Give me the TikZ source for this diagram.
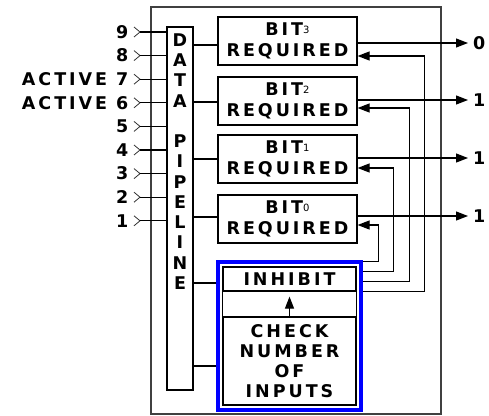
\documentclass[tikz,border=0pt]{standalone}
\usepackage{fontspec}
\newfontfamily\pixfont[LetterSpace=17]{DejaVu Sans}
\usetikzlibrary{arrows.meta, positioning, fit}
\newcommand{\bitno}[1]{\raisebox{2pt}{\fontsize{10}{10}\selectfont\mdseries #1}}

\begin{document}
\begin{tikzpicture}[
      x=1pt, y=-1pt,
      line width=1.2pt,
      font=\pixfont\bfseries\fontsize{17.5}{21.5}\selectfont,
      bitbox/.style={rectangle, draw, minimum width=139pt, minimum height=48pt, inner sep=0pt, align=center},
      logic/.style={rectangle, draw, minimum width=133pt, inner sep=0pt, align=center, font=\pixfont\bfseries\fontsize{17.5}{20}\selectfont},
      letter/.style={inner sep=0pt},
      arrow/.style={-{Triangle[length=12pt,width=9pt]}}
    ]
    \useasboundingbox (0,0) rectangle (489,415);
    % outer frame
    \draw [black!75, line width=1.5pt] (151,7) rectangle (441,414);

    % data pipeline
    \node [rectangle, draw, minimum width=26pt, minimum height=363pt, inner sep=0pt] (pipe) at (180,208.5) {};
    \foreach \ch [count=\k from 0] in {D,A,T,A,{},P,I,P,E,L,I,N,E}
      \node [letter] (pl\k) at (180,40+20.25*\k) {\ch};

    % inputs
    \foreach \lab [count=\k from 0] in {9,8,ACTIVE 7,ACTIVE 6,5,4,3,2,1} {
      \coordinate (in\k) at (140,32+23.6*\k);
      \node [letter, anchor=east] (lab\k) at (129,32+23.6*\k) {\lab};
      \draw [line width=0.8pt, black!80] (in\k) ++(-6,-5) -- (in\k) -- ++(-6,5);
      \draw (in\k) -- (in\k -| pipe.west);
    }

    % bit boxes
    \node [bitbox] (bit3) at (287.5,41) {BIT\bitno{3}\\REQUIRED};
    \node [bitbox] (bit2) at (287.5,101) {BIT\bitno{2}\\REQUIRED};
    \node [bitbox] (bit1) at (287.5,159) {BIT\bitno{1}\\REQUIRED};
    \node [bitbox] (bit0) at (287.5,219) {BIT\bitno{0}\\REQUIRED};

    % inhibit logic
    \node [logic, minimum height=24pt] (inhibit) at (289.5,279) {INHIBIT};
    \node [logic, minimum height=88pt] (check) at (289.5,361) {CHECK\\NUMBER\\OF\\INPUTS};
    \draw (inhibit.south west) -- (check.north west);
    \draw (inhibit.south east) -- (check.north east);
    \draw [arrow, shorten >=5pt] (check.north) -- (inhibit.south);
    \node [fit=(inhibit)(check), draw=blue, line width=4pt, inner sep=4pt] (guard) {};

    % pipeline to boxes
    \draw ([yshift=-4pt]bit3.west) -- ([yshift=-4pt]bit3.west -| pipe.east);
    \draw ([yshift=-1pt]bit2.west) -- ([yshift=-1pt]bit2.west -| pipe.east);
    \draw (bit1.west) -- (bit1.west -| pipe.east);
    \draw ([yshift=2pt]bit0.west) -- ([yshift=2pt]bit0.west -| pipe.east);
    \draw ([yshift=-4pt]inhibit.west -| guard.west) -- ([yshift=-4pt]inhibit.west -| pipe.east);
    \draw ([yshift=-5pt]check.west -| guard.west) -- ([yshift=-5pt]check.west -| pipe.east);

    % outputs
    \foreach \b/\y/\v in {3/43/0, 2/100/1, 1/158/1, 0/216/1} {
      \coordinate (out\b) at (468,\y);
      \draw [arrow] (bit\b.east |- out\b) -- (out\b);
      \node [letter, anchor=east] (val\b) at (486,\y) {\v};
    }

    % feedback from inhibit
    \draw [arrow] ([yshift=-1pt]guard.north east) -| ([xshift=21pt,yshift=-6pt]bit0.east) -- ([yshift=-6pt]bit0.east);
    \draw [arrow] ([yshift=-11pt]guard.north east) -| ([xshift=36pt,yshift=-9pt]bit1.east) -- ([yshift=-9pt]bit1.east);
    \draw [arrow] ([yshift=-21pt]guard.north east) -| ([xshift=52pt,yshift=-7pt]bit2.east) -- ([yshift=-7pt]bit2.east);
    \draw [arrow] ([yshift=-31pt]guard.north east) -| ([xshift=67pt,yshift=-15pt]bit3.east) -- ([yshift=-15pt]bit3.east);
  \end{tikzpicture}
\end{document}
